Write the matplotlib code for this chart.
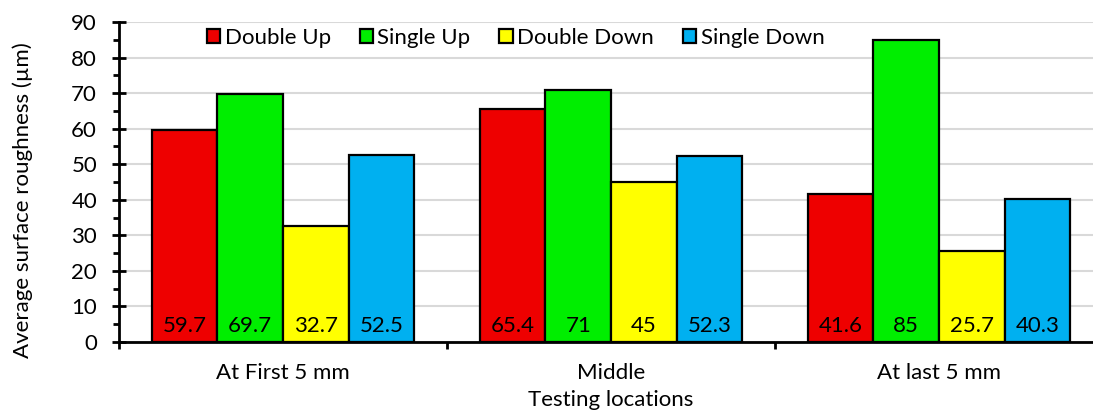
import matplotlib.pyplot as plt
import numpy as np
from matplotlib.ticker import MultipleLocator, FixedLocator, NullFormatter

locations = ['At First 5 mm', 'Middle', 'At last 5 mm']
series = ['Double Up', 'Single Up', 'Double Down', 'Single Down']
double_up = [59.7, 65.4, 41.6]
single_up = [69.7, 71, 85]
double_down = [32.7, 45, 25.7]
single_down = [52.5, 52.3, 40.3]
colors = ['#EE0000', '#00EE00', '#FFFF00', '#00B0F0']

plt.rcParams['font.family'] = ['Lato', 'DejaVu Sans']

fig = plt.figure(figsize=(10.93, 4.12), dpi=100)
ax = fig.add_axes([119/1093, 70/412, 984/1093, 320/412])

x = np.arange(len(locations))
width = 0.2
values = [double_up, single_up, double_down, single_down]
for k, (name, vals, col) in enumerate(zip(series, values, colors)):
    pos = x + (k - 1.5)*width
    ax.bar(pos, vals, width, color=col, edgecolor='black', linewidth=1.6, label=name, zorder=3)
    for p, v in zip(pos, vals):
        ax.text(p, 4.5, f'{v:g}', ha='center', va='center', fontsize=16, zorder=4)

ax.set_xlim(-0.5, 2.5)
ax.set_ylim(0, 90)
ax.yaxis.set_major_locator(MultipleLocator(10))
ax.yaxis.set_minor_locator(MultipleLocator(5))
ax.grid(axis='y', color='#D9D9D9', linewidth=1.5, zorder=0)
ax.set_axisbelow(True)

# category labels between boundary ticks
ax.xaxis.set_major_locator(FixedLocator([-0.5, 0.5, 1.5, 2.5]))
ax.xaxis.set_major_formatter(NullFormatter())
ax.xaxis.set_minor_locator(FixedLocator(x))
ax.set_xticklabels(locations, minor=True)
ax.tick_params(axis='x', which='minor', length=0, pad=15, labelsize=16)
ax.tick_params(axis='x', which='major', direction='out', length=5, width=2)
ax.tick_params(axis='y', which='major', direction='inout', length=9.5, width=2, labelsize=16, pad=11)
ax.tick_params(axis='y', which='minor', direction='out', length=4.5, width=2)

for s in ['top', 'right']:
    ax.spines[s].set_visible(False)
for s in ['left', 'bottom']:
    ax.spines[s].set_linewidth(2)

ax.set_xlabel('Testing locations', fontsize=16, labelpad=5)
ax.set_ylabel('Average surface roughness (µm)', fontsize=16)
ax.yaxis.set_label_coords(-0.087, 0.444)

ax.legend(loc='center', bbox_to_anchor=(0.403, 0.95), ncol=4, frameon=False, fontsize=16,
          handlelength=0.6, handleheight=0.6, handletextpad=0.2, columnspacing=1.3)

fig.savefig('out.png', dpi=100)
